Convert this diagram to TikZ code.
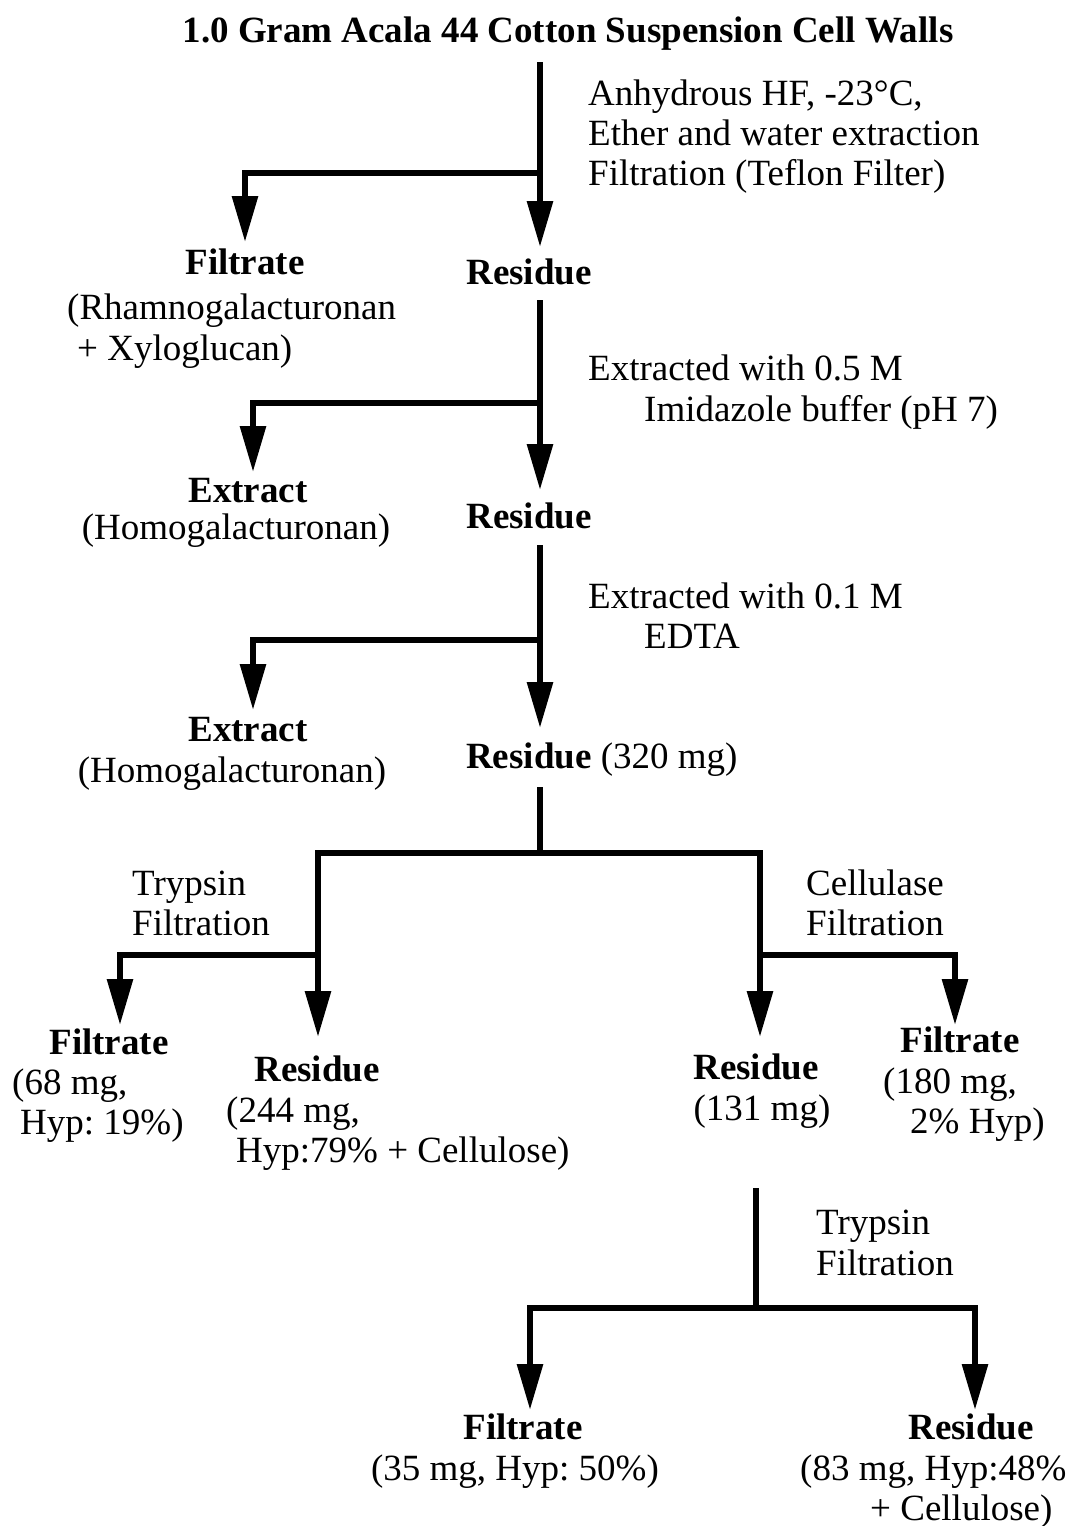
\documentclass[tikz,border=0pt]{standalone}
\usepackage{fontspec}
\setmainfont{Liberation Serif}
\usetikzlibrary{arrows.meta}
\newcommand\myfs{\fontsize{37}{40.5}\selectfont\frenchspacing}
\begin{document}
\begin{tikzpicture}[x=1pt,y=-1pt,
  ln/.style={line width=6pt, line join=miter},
  flow/.style={ln, -{Triangle[length=46pt,width=25pt]}},
  tx/.style={font=\myfs, inner sep=0pt, anchor=base west},
  tc/.style={font=\myfs, inner sep=0pt, anchor=base},
  hd/.style={font=\myfs\bfseries, inner sep=0pt, anchor=base}]
\useasboundingbox (0,0) rectangle (1071,1526);
% title
\node[hd] (title) at (568,42) {1.0 Gram Acala 44 Cotton Suspension Cell Walls};
% step 1
\coordinate (s1) at (540,62);
\coordinate (j1) at (540,173);
\coordinate (t1r) at (540,247);
\coordinate (t1l) at (245,242);
\draw[flow] (s1) -- (t1r);
\draw[flow] (j1) -| (t1l);
\node[tx] (c1a) at (588,105) {Anhydrous HF, -23°C,};
\node[tx] (c1b) at (588,145) {Ether and water extraction};
\node[tx] (c1c) at (588,185) {Filtration (Teflon Filter)};
\node[hd] (f1) at (245,274) {Filtrate};
\node[tx] (f1a) at (67,319) {(Rhamnogalacturonan};
\node[tx] (f1b) at (77,360) {+ Xyloglucan)};
\node[hd] (r1) at (529,284) {Residue};
% step 2
\coordinate (s2) at (540,300);
\coordinate (j2) at (540,403);
\coordinate (t2r) at (540,490);
\coordinate (t2l) at (253,472);
\draw[flow] (s2) -- (t2r);
\draw[flow] (j2) -| (t2l);
\node[tx] (c2a) at (588,380) {Extracted with 0.5 M};
\node[tx] (c2b) at (644,421) {Imidazole buffer (pH 7)};
\node[hd] (e2) at (248,502) {Extract};
\node[tc] (e2a) at (236,539) {(Homogalacturonan)};
\node[hd] (r2) at (529,528) {Residue};
% step 3
\coordinate (s3) at (540,545);
\coordinate (j3) at (540,640);
\coordinate (t3r) at (540,728);
\coordinate (t3l) at (253,710);
\draw[flow] (s3) -- (t3r);
\draw[flow] (j3) -| (t3l);
\node[tx] (c3a) at (588,608) {Extracted with 0.1 M};
\node[tx] (c3b) at (644,648) {EDTA};
\node[hd] (e3) at (248,741) {Extract};
\node[tc] (e3a) at (232,782) {(Homogalacturonan)};
\node[tx] (r3) at (466,768) {\textbf{Residue} (320 mg)};
% step 4
\coordinate (s4) at (540,787);
\coordinate (j4) at (540,853);
\coordinate (t4l) at (318,1037);
\coordinate (t4r) at (760,1037);
\coordinate (j4l) at (318,955);
\coordinate (j4r) at (760,955);
\coordinate (t4ll) at (120,1025);
\coordinate (t4rr) at (955,1025);
\draw[ln] (s4) -- (j4);
\draw[flow] (j4) -| (t4l);
\draw[flow] (j4) -| (t4r);
\draw[flow] (j4l) -| (t4ll);
\draw[flow] (j4r) -| (t4rr);
\node[tx] (c4a) at (132,895) {Trypsin};
\node[tx] (c4b) at (132,935) {Filtration};
\node[tx] (c4c) at (806,895) {Cellulase};
\node[tx] (c4d) at (806,935) {Filtration};
\node[hd] (f4) at (109,1054) {Filtrate};
\node[tx] (f4a) at (12,1094) {(68 mg,};
\node[tx] (f4b) at (20,1134) {Hyp: 19\%)};
\node[hd] (r4) at (317,1081) {Residue};
\node[tx] (r4a) at (226,1122) {(244 mg,};
\node[tx] (r4b) at (236,1162) {Hyp:79\% + Cellulose)};
\node[hd] (r5) at (756,1079) {Residue};
\node[tc] (r5a) at (762,1120) {(131 mg)};
\node[hd] (f5) at (960,1052) {Filtrate};
\node[tx] (f5a) at (883,1093) {(180 mg,};
\node[tx] (f5b) at (910,1133) {2\% Hyp)};
% step 5
\coordinate (s6) at (756,1188);
\coordinate (j6) at (756,1308);
\coordinate (t6l) at (530,1410);
\coordinate (t6r) at (975,1410);
\draw[ln] (s6) -- (j6);
\draw[flow] (j6) -| (t6l);
\draw[flow] (j6) -| (t6r);
\node[tx] (c6a) at (816,1234) {Trypsin};
\node[tx] (c6b) at (816,1275) {Filtration};
\node[hd] (f6) at (523,1439) {Filtrate};
\node[tc] (f6a) at (515,1480) {(35 mg, Hyp: 50\%)};
\node[hd] (r6) at (971,1439) {Residue};
\node[tx] (r6a) at (800,1480) {(83 mg, Hyp:48\%};
\node[tx] (r6b) at (870,1520) {+ Cellulose)};
\end{tikzpicture}
\end{document}
